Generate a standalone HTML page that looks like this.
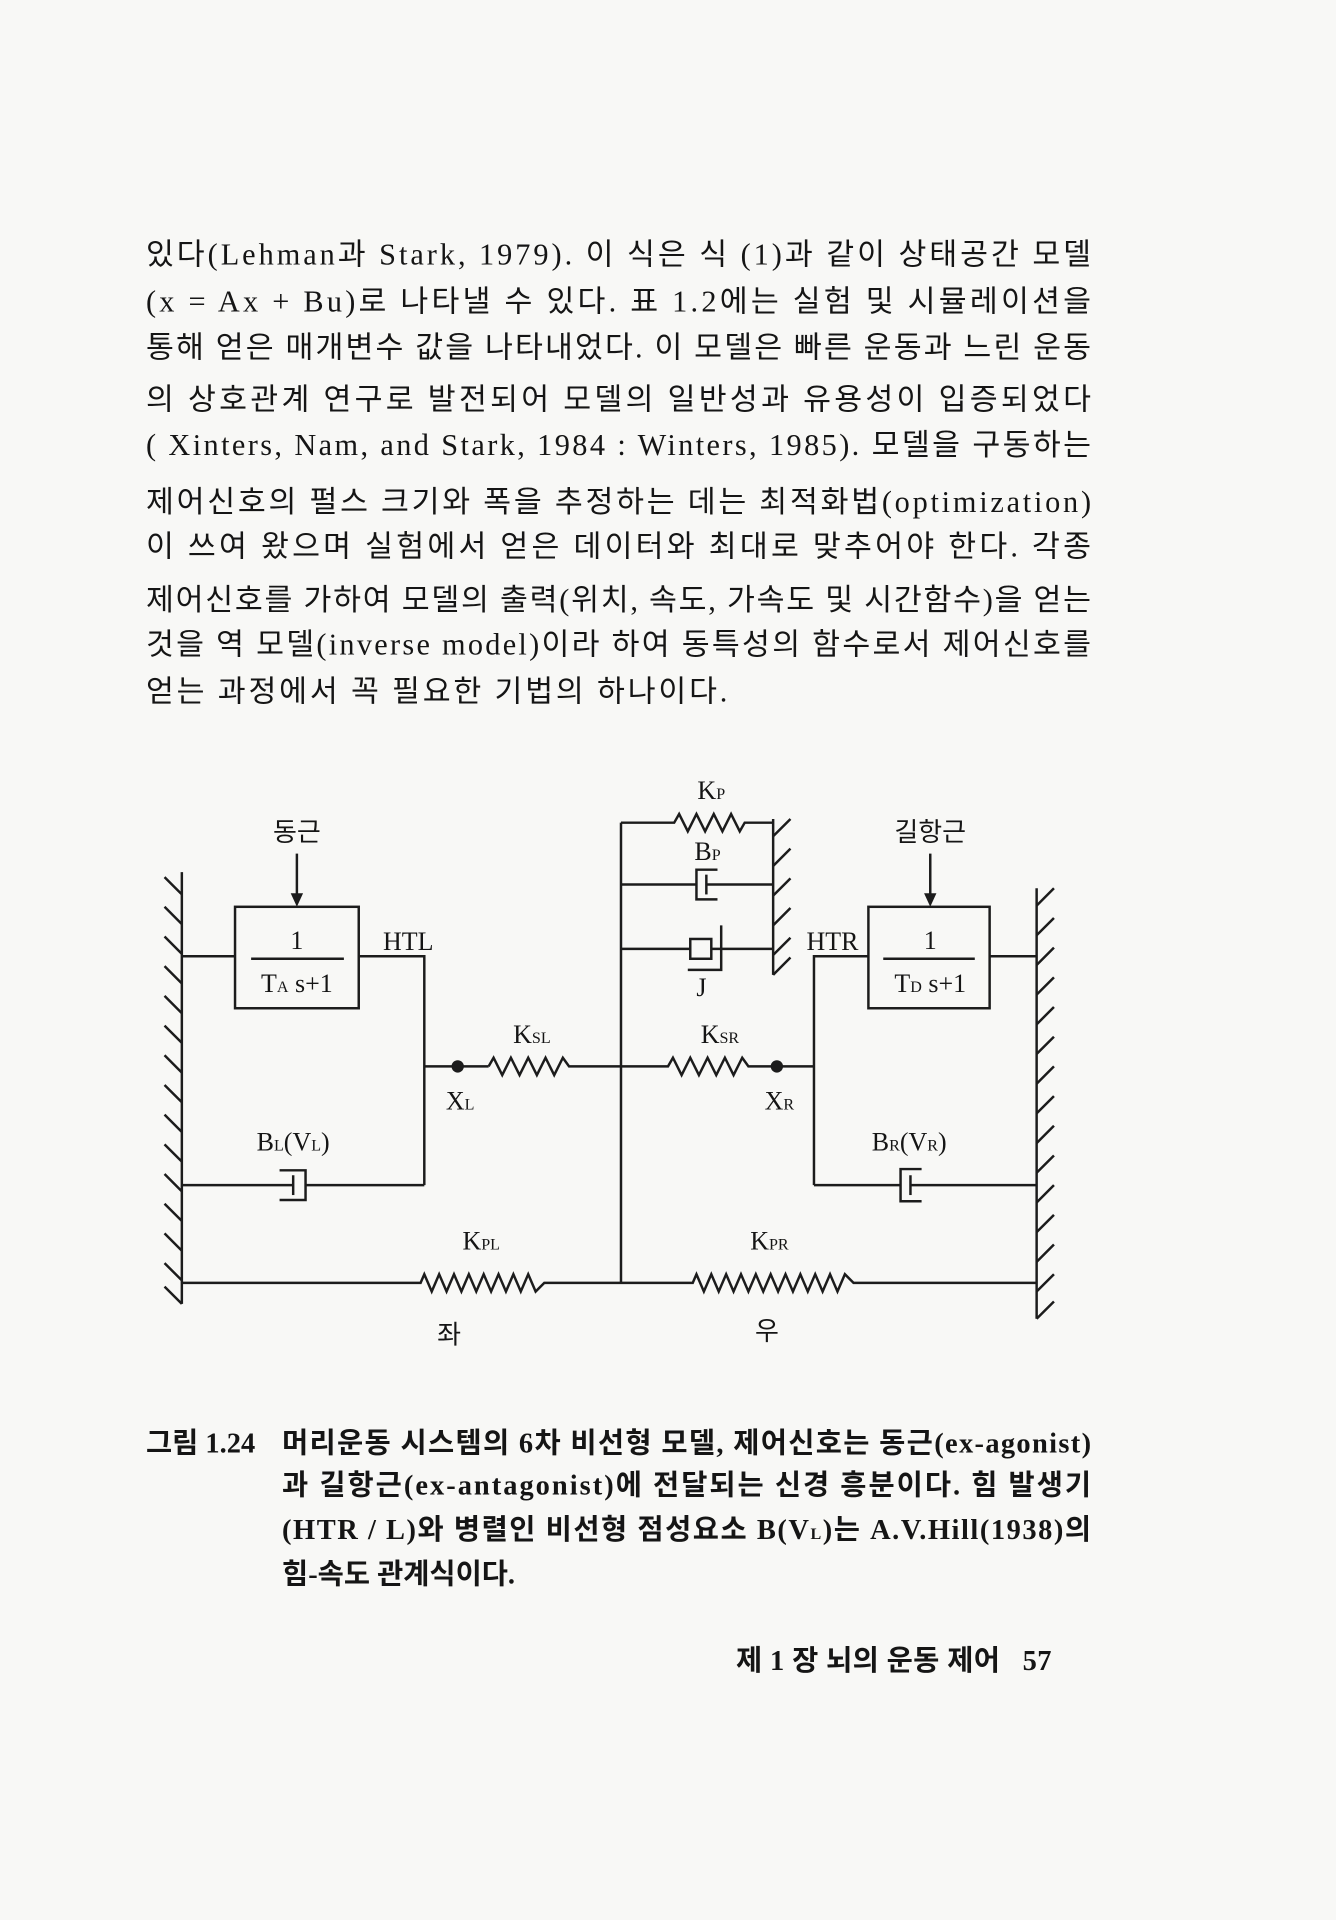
<!DOCTYPE html>
<html><head><meta charset="utf-8"><style>
html,body{margin:0;padding:0;background:#f8f8f6;}
svg{display:block;}
text{font-family:"Liberation Serif","Noto Sans CJK KR","Noto Serif CJK SC",serif;fill:#151515;}
.b{font-size:24.5px;}
.c{font-size:23px;font-weight:bold;}
.f{font-size:23px;font-weight:bold;}
.d{font-size:21px;}
.s{font-size:13px;}
</style></head><body>
<svg width="1336" height="1920" viewBox="0 0 1080 1552" preserveAspectRatio="none" xmlns="http://www.w3.org/2000/svg">
<rect width="1080" height="1552" fill="#f8f8f6"/>
<g class="b">
<text x="118" y="214" textLength="764" lengthAdjust="spacing">있다(Lehman과 Stark, 1979). 이 식은 식 (1)과 같이 상태공간 모델</text>
<text x="118" y="252" textLength="764" lengthAdjust="spacing">(x = Ax + Bu)로 나타낼 수 있다. 표 1.2에는 실험 및 시뮬레이션을</text>
<text x="118" y="289" textLength="764" lengthAdjust="spacing">통해 얻은 매개변수 값을 나타내었다. 이 모델은 빠른 운동과 느린 운동</text>
<text x="118" y="331" textLength="764" lengthAdjust="spacing">의 상호관계 연구로 발전되어 모델의 일반성과 유용성이 입증되었다</text>
<text x="118" y="368" textLength="764" lengthAdjust="spacing">( Xinters, Nam, and Stark, 1984 : Winters, 1985). 모델을 구동하는</text>
<text x="118" y="414" textLength="764" lengthAdjust="spacing">제어신호의 펄스 크기와 폭을 추정하는 데는 최적화법(optimization)</text>
<text x="118" y="450" textLength="764" lengthAdjust="spacing">이 쓰여 왔으며 실험에서 얻은 데이터와 최대로 맞추어야 한다. 각종</text>
<text x="118" y="493" textLength="764" lengthAdjust="spacing">제어신호를 가하여 모델의 출력(위치, 속도, 가속도 및 시간함수)을 얻는</text>
<text x="118" y="529" textLength="764" lengthAdjust="spacing">것을 역 모델(inverse model)이라 하여 동특성의 함수로서 제어신호를</text>
<text x="118" y="567" textLength="470" lengthAdjust="spacing">얻는 과정에서 꼭 필요한 기법의 하나이다.</text>
</g>
<g stroke="#1c1c1c" stroke-width="2" fill="none">
<line x1="147" y1="705" x2="147" y2="1054"/>
<path d="M133 709L147 723M133 733L147 747M133 757L147 771M133 781L147 795M133 805L147 819M133 829L147 843M133 853L147 867M133 877L147 891M133 901L147 915M133 925L147 939M133 949L147 963M133 973L147 987M133 997L147 1011M133 1021L147 1035M133 1040L147 1054"/>
<line x1="838" y1="718" x2="838" y2="1066"/>
<path d="M838 732L852 718M838 756L852 742M838 780L852 766M838 804L852 790M838 828L852 814M838 852L852 838M838 876L852 862M838 900L852 886M838 924L852 910M838 948L852 934M838 972L852 958M838 996L852 982M838 1020L852 1006M838 1044L852 1030M838 1066L852 1052"/>
<line x1="625" y1="662" x2="625" y2="788"/>
<path d="M625 676L639 662M625 700L639 686M625 724L639 710M625 748L639 734M625 772L639 758M625 788L639 774"/>
<rect x="190" y="733" width="100" height="82"/>
<line x1="203" y1="775" x2="278" y2="775"/>
<line x1="147" y1="773" x2="190" y2="773"/>
<polyline points="290,773 343,773 343,958"/>
<line x1="240" y1="690" x2="240" y2="728"/>
<rect x="702" y="733" width="98" height="82"/>
<line x1="714" y1="775" x2="788" y2="775"/>
<line x1="800" y1="773" x2="838" y2="773"/>
<polyline points="702,773 658,773 658,958"/>
<line x1="752" y1="690" x2="752" y2="728"/>
<line x1="343" y1="862" x2="395" y2="862"/>
<path d="M395 862L399 855L406 869L413 855L420 869L427 855L434 869L441 855L448 869L455 855L460 862L502 862"/>
<path d="M502 862L540 862L544 855L551 869L558 855L565 869L572 855L579 869L586 855L593 869L600 855L605 862L658 862"/>
<line x1="502" y1="665" x2="502" y2="1037"/>
<path d="M502 665L545 665L549 658L556 672L563 658L570 672L577 658L584 672L591 658L598 672L602 665L625 665"/>
<line x1="502" y1="715" x2="563" y2="715"/>
<path d="M580 703H563V727H580"/>
<line x1="571" y1="707" x2="571" y2="723"/>
<line x1="571" y1="715" x2="625" y2="715"/>
<line x1="502" y1="767" x2="558" y2="767"/>
<rect x="558" y="759" width="17" height="16"/>
<line x1="575" y1="767" x2="625" y2="767"/>
<polyline points="583,748 583,784 556,784"/>
<line x1="147" y1="958" x2="237" y2="958"/>
<line x1="237" y1="950" x2="237" y2="966"/>
<path d="M226 946H247V970H226"/>
<line x1="247" y1="958" x2="343" y2="958"/>
<line x1="658" y1="958" x2="728" y2="958"/>
<path d="M745 945H728V971H745"/>
<line x1="736" y1="950" x2="736" y2="966"/>
<line x1="736" y1="958" x2="838" y2="958"/>
<path d="M147 1037L340 1037L343 1030L349 1044L355 1030L361 1044L367 1030L373 1044L379 1030L385 1044L391 1030L397 1044L403 1030L409 1044L415 1030L421 1044L427 1030L433 1044L440 1037L502 1037"/>
<path d="M502 1037L560 1037L563 1030L569 1044L575 1030L581 1044L587 1030L593 1044L599 1030L605 1044L611 1030L617 1044L623 1030L629 1044L635 1030L641 1044L647 1030L653 1044L659 1030L665 1044L671 1030L677 1044L683 1030L690 1037L838 1037"/>
</g>
<polygon points="235,722 245,722 240,733" fill="#1c1c1c"/>
<polygon points="747,722 757,722 752,733" fill="#1c1c1c"/>
<circle cx="370" cy="862" r="5" fill="#1c1c1c"/>
<circle cx="628" cy="862" r="5" fill="#1c1c1c"/>
<g class="d" text-anchor="middle">
<text x="240" y="680">동근</text>
<text x="752" y="680">길항근</text>
<text x="240" y="767">1</text>
<text x="240" y="802">T<tspan class="s">A</tspan> s+1</text>
<text x="752" y="767">1</text>
<text x="752" y="802">T<tspan class="s">D</tspan> s+1</text>
<text x="330" y="768">HTL</text>
<text x="673" y="768">HTR</text>
<text x="575" y="646">K<tspan class="s">P</tspan></text>
<text x="572" y="695">B<tspan class="s">P</tspan></text>
<text x="567" y="805">J</text>
<text x="430" y="843">K<tspan class="s">SL</tspan></text>
<text x="582" y="843">K<tspan class="s">SR</tspan></text>
<text x="372" y="897">X<tspan class="s">L</tspan></text>
<text x="630" y="897">X<tspan class="s">R</tspan></text>
<text x="237" y="930">B<tspan class="s">L</tspan>(V<tspan class="s">L</tspan>)</text>
<text x="735" y="930">B<tspan class="s">R</tspan>(V<tspan class="s">R</tspan>)</text>
<text x="389" y="1010">K<tspan class="s">PL</tspan></text>
<text x="622" y="1010">K<tspan class="s">PR</tspan></text>
<text x="363" y="1086">좌</text>
<text x="620" y="1083">우</text>
</g>
<g class="c">
<text x="118" y="1174">그림 1.24</text>
<text x="228" y="1174" textLength="654" lengthAdjust="spacing">머리운동 시스템의 6차 비선형 모델, 제어신호는 동근(ex-agonist)</text>
<text x="228" y="1208" textLength="654" lengthAdjust="spacing">과 길항근(ex-antagonist)에 전달되는 신경 흥분이다. 힘 발생기</text>
<text x="228" y="1244" textLength="654" lengthAdjust="spacing">(HTR / L)와 병렬인 비선형 점성요소 B(V<tspan class="s">L</tspan>)는 A.V.Hill(1938)의</text>
<text x="228" y="1280">힘-속도 관계식이다.</text>
</g>
<text class="f" x="595" y="1350" textLength="255" lengthAdjust="spacing">제 1 장 뇌의 운동 제어 &#160; 57</text>
</svg>
</body></html>
